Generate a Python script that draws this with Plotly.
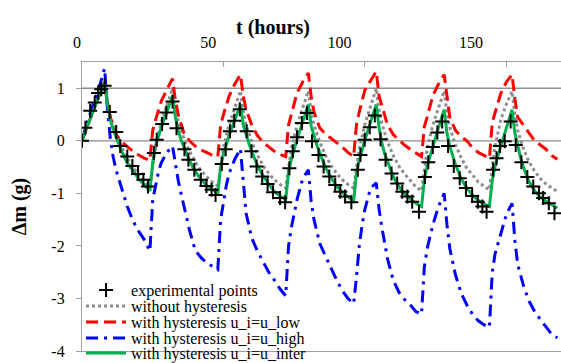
import plotly.graph_objects as go

# ---------------- data ----------------
exp_t = [0, 1.2, 2.9, 4.5, 5.7, 6.8, 8, 9.8, 12.1, 13.5, 16, 17.8, 19.8, 21.7, 23.3,
         25.4, 26.4, 28.3, 29.8, 32, 33.4, 36.2, 37.6, 39.7, 42, 44, 45.8, 47.2,
         49.4, 50.8, 52.3, 53.8, 55.8, 58.2, 59.9, 61.7, 63.7, 65.6, 67.5, 70, 71.8,
         73.3, 74.5, 76, 77.7, 79.5, 81.3, 83.6, 85.4, 87.4, 89.5, 91.3, 93, 95.2,
         97.5, 98.4, 99.9, 101.7, 103.5, 105.5, 107.3, 109.4, 111.4, 113.2, 115, 116.7, 119.1,
         121.2, 122.4, 124, 125.6, 127.3, 129.4, 131.4, 133.5, 135.7, 137.9, 139.9, 141.5, 143,
         145.3, 146.5, 147.7, 149.4, 151.5, 153.3, 155.3, 157.4, 159.5, 161.5, 163, 165, 167]
exp_v = [0, 0.25, 0.57, 0.73, 0.91, 0.98, 1.05, 0.55, 0.17, -0.1, -0.3, -0.48, -0.63, -0.74, -0.87,
         -0.23, 0.02, 0.32, 0.54, 0.75, 0.24, -0.16, -0.36, -0.55, -0.74, -0.86, -0.93, -1.03,
         -0.44, -0.16, 0.18, 0.38, 0.6, 0.18, -0.2, -0.49, -0.68, -0.82, -0.98, -1.09, -1.17,
         -0.52, -0.2, 0.07, 0.34, 0.53, -0.01, -0.27, -0.49, -0.68, -0.84, -0.97, -1.06, -1.17,
         -0.55, -0.27, 0.02, 0.26, 0.48, 0.03, -0.36, -0.62, -0.81, -0.97, -1.06, -1.16, -1.35,
         -0.69, -0.41, -0.12, 0.16, 0.37, -0.1, -0.48, -0.71, -0.9, -1.05, -1.16, -1.25, -1.35,
         -0.55, -0.33, -0.1, -0.01, 0.37, -0.08, -0.41, -0.69, -0.87, -1.0, -1.09, -1.19, -1.38]

gray_t = [0, 2, 4, 6, 8, 9, 10, 12, 14, 16, 18, 20, 22,
          24, 25, 26, 28, 30, 32, 33, 34, 36, 38, 40, 42, 44, 46,
          48, 49, 50, 52, 54, 56, 57, 58, 60, 62, 64, 66, 68, 70,
          72, 73, 74, 76, 78, 80, 81, 82, 84, 86, 88, 90, 92, 94,
          96, 97, 98, 100, 102, 104, 105, 106, 108, 110, 112, 114, 116, 118,
          120, 121, 122, 124, 126, 128, 129, 130, 132, 134, 136, 138, 140, 142,
          144, 145, 146, 148, 150, 152, 153, 154, 156, 158, 160, 162, 164, 166, 168]
gray_v = [0, 0.3, 0.58, 0.86, 1.12, 0.75, 0.48, 0.15, -0.12, -0.33, -0.5, -0.65, -0.78,
          -0.88, -0.45, -0.1, 0.35, 0.68, 1.0, 0.62, 0.38, 0.05, -0.2, -0.4, -0.56, -0.68, -0.78,
          -0.86, -0.45, -0.12, 0.3, 0.62, 0.95, 0.55, 0.3, -0.02, -0.27, -0.47, -0.62, -0.74, -0.83,
          -0.9, -0.5, -0.15, 0.3, 0.62, 0.95, 0.55, 0.3, -0.02, -0.27, -0.47, -0.62, -0.74, -0.83,
          -0.9, -0.5, -0.15, 0.32, 0.66, 1.0, 0.58, 0.32, -0.02, -0.28, -0.48, -0.63, -0.75, -0.88,
          -0.95, -0.5, -0.15, 0.3, 0.62, 0.95, 0.52, 0.25, -0.08, -0.32, -0.52, -0.66, -0.78, -0.86,
          -0.93, -0.5, -0.1, 0.4, 0.7, 0.94, 0.5, 0.2, -0.15, -0.4, -0.58, -0.72, -0.82, -0.9, -0.96]

red_t = gray_t
red_v = [0, 0.3, 0.58, 0.85, 1.1, 0.7, 0.45, 0.12, -0.02, -0.11, -0.2, -0.27, -0.33,
         -0.37, 0.2, 0.4, 0.75, 0.98, 1.18, 0.78, 0.5, 0.15, 0.0, -0.1, -0.17, -0.22, -0.27,
         -0.3, 0.3, 0.5, 0.85, 1.08, 1.26, 0.85, 0.6, 0.3, 0.1, -0.03, -0.12, -0.2, -0.26,
         -0.3, 0.3, 0.5, 0.91, 1.12, 1.29, 0.85, 0.55, 0.25, 0.13, 0.05, -0.03, -0.12, -0.22,
         -0.3, 0.3, 0.55, 0.97, 1.15, 1.32, 0.85, 0.65, 0.3, 0.12, 0.02, -0.08, -0.16, -0.23,
         -0.3, 0.27, 0.45, 0.86, 1.08, 1.26, 0.8, 0.45, 0.2, 0.08, 0.0, -0.13, -0.22, -0.28,
         -0.33, 0.35, 0.55, 0.9, 1.12, 1.26, 0.8, 0.45, 0.3, 0.15, 0.0, -0.08, -0.16, -0.28, -0.35]

blue_t = [0, 1, 2, 4, 6, 8, 9, 10, 11, 12, 14, 16, 18, 20, 22,
          24, 25, 26, 27, 28, 30, 32, 33, 34, 35, 36, 38, 40, 42, 44, 46,
          48, 49, 50, 51, 52, 54, 56, 57, 58, 60, 62, 64, 66, 68, 70,
          72, 73, 74, 75, 76, 78, 80, 81, 82, 84, 86, 88, 90, 92, 94,
          96, 97, 98, 99, 100, 102, 104, 105, 106, 108, 110, 112, 114, 116, 118,
          120, 121, 122, 124, 126, 128, 129, 130, 132, 134, 136, 138, 140, 142,
          144, 145, 146, 148, 150, 152, 153, 154, 156, 158, 160, 162, 164, 166, 168]
blue_v = [0, 0.2, 0.38, 0.7, 1.0, 1.38, 0.6, 0.05, -0.3, -0.55, -0.9, -1.25, -1.52, -1.72, -1.88,
          -2.1, -1.12, -0.85, -0.6, -0.42, -0.22, -0.1, -0.45, -0.75, -1.0, -1.25, -1.7, -2.08, -2.22, -2.32, -2.38,
          -2.45, -1.5, -1.15, -0.85, -0.62, -0.35, -0.15, -0.8, -1.38, -1.85, -2.1, -2.3, -2.5, -2.65, -2.82,
          -2.95, -2.0, -1.65, -1.35, -1.12, -0.72, -0.55, -1.15, -1.5, -1.95, -2.2, -2.42, -2.65, -2.85, -3.0,
          -3.1, -2.6, -2.0, -1.6, -1.3, -0.9, -0.8, -1.3, -1.65, -2.25, -2.65, -2.88, -3.02, -3.12, -3.25,
          -3.3, -2.4, -2.05, -1.6, -1.25, -1.0, -1.6, -2.05, -2.55, -2.9, -3.12, -3.3, -3.42, -3.5,
          -3.55, -2.5, -2.15, -1.75, -1.4, -1.19, -1.9, -2.35, -2.75, -3.05, -3.25, -3.4, -3.55, -3.68, -3.75]

green_t = [0, 1, 2, 4, 6, 8, 9, 10, 11, 12, 14, 16, 18, 20, 22,
           24, 25, 26, 28, 30, 32, 33, 34, 35, 36, 38, 40, 42, 44, 46,
           48, 49, 50, 52, 54, 56, 57, 58, 59, 60, 62, 64, 66, 68, 70,
           72, 73, 74, 76, 78, 80, 81, 82, 83, 84, 86, 88, 90, 92, 94,
           96, 97, 98, 100, 102, 104, 105, 106, 107, 108, 110, 112, 114, 116, 118,
           120, 121, 122, 124, 126, 128, 129, 130, 131, 132, 134, 136, 138, 140, 142,
           144, 145, 146, 148, 150, 152, 153, 154, 155, 156, 158, 160, 162, 164, 166, 168]
green_v = [0, 0.15, 0.3, 0.58, 0.85, 1.1, 0.7, 0.4, 0.22, 0.08, -0.2, -0.42, -0.58, -0.72, -0.84,
           -0.95, -0.4, -0.1, 0.25, 0.55, 0.85, 0.45, 0.2, 0.02, -0.12, -0.38, -0.58, -0.73, -0.85, -0.93,
           -1.0, -0.5, -0.25, 0.1, 0.4, 0.69, 0.3, 0.1, -0.05, -0.2, -0.47, -0.67, -0.83, -0.97, -1.05,
           -1.12, -0.6, -0.35, 0.03, 0.37, 0.69, 0.28, 0.08, -0.08, -0.22, -0.5, -0.7, -0.86, -0.98, -1.07,
           -1.15, -0.62, -0.37, 0.02, 0.35, 0.69, 0.25, -0.05, -0.25, -0.4, -0.68, -0.87, -1.0, -1.1, -1.19,
           -1.25, -0.75, -0.48, -0.1, 0.25, 0.59, 0.15, -0.1, -0.3, -0.45, -0.72, -0.9, -1.03, -1.13, -1.2,
           -1.25, -0.75, -0.48, -0.1, 0.25, 0.59, 0.15, -0.12, -0.32, -0.5, -0.78, -0.95, -1.07, -1.15, -1.22, -1.28]

x_ticks = [0, 50, 100, 150]
x_ticktext = ["0", "50", "100", "150"]
y_ticks = [-4, -3, -2, -1, 0, 1]
y_ticktext = ["-4", "-3", "-2", "-1", "0", "1"]
grid_levels = [0, 1]

names = ["experimental points", "without hysteresis", "with hysteresis u_i=u_low",
         "with hysteresis u_i=u_high", "with hysteresis u_i=u_inter"]

FONT = "Liberation Serif"

fig = go.Figure()
fig.add_trace(go.Scatter(x=gray_t, y=gray_v, mode="lines", name=names[1], legend="legend2",
                         line=dict(color="#8c8c8c", width=3, dash="3px,3px")))
fig.add_trace(go.Scatter(x=red_t, y=red_v, mode="lines", name=names[2], legend="legend3",
                         line=dict(color="#ff0000", width=3, dash="12px,6px")))
fig.add_trace(go.Scatter(x=blue_t, y=blue_v, mode="lines", name=names[3], legend="legend4",
                         line=dict(color="#0000ff", width=3, dash="12px,6px,3px,6px")))
fig.add_trace(go.Scatter(x=green_t, y=green_v, mode="lines", name=names[4], legend="legend5",
                         line=dict(color="#00b050", width=3)))
fig.add_trace(go.Scatter(x=exp_t, y=exp_v, mode="markers", name=names[0], legend="legend",
                         marker=dict(symbol="cross-thin", size=10,
                                     line=dict(color="black", width=2))))
# carrier for the top tick-label axis (no visible marks)
fig.add_trace(go.Scatter(x=x_ticks, y=[None] * len(x_ticks), xaxis="x2", yaxis="y",
                         mode="lines", showlegend=False, hoverinfo="skip"))

for g in grid_levels:
    fig.add_hline(y=g, line=dict(color="#8c8c8c", width=1.3), layer="below")

leg_common = dict(x=-0.002, xanchor="left", yanchor="middle", yref="container",
                  bgcolor="rgba(0,0,0,0)",
                  font=dict(family=FONT, size=16, color="black"), itemwidth=40)
leg_rows = [0.2011, 0.1570, 0.1129, 0.0689, 0.0275]

fig.update_layout(
    width=561, height=363,
    margin=dict(l=82, r=0, t=62, b=12, autoexpand=False),
    paper_bgcolor="white", plot_bgcolor="white",
    font=dict(family=FONT, size=16, color="black"),
    xaxis=dict(range=[0, 169.3], side="top", showgrid=False, zeroline=False,
               showticklabels=False, tickvals=x_ticks[1:], ticks="inside", ticklen=5,
               tickcolor="#a0a0a0", showline=True, linecolor="#a0a0a0", linewidth=1.3,
               mirror=True),
    xaxis2=dict(overlaying="x", side="top", range=[0, 182.4], showgrid=False,
                zeroline=False, showline=False, ticks="", tickvals=x_ticks,
                ticktext=x_ticktext, ticklabelshift=-5, ticklabelstandoff=10,
                tickfont=dict(family=FONT, size=16, color="black")),
    yaxis=dict(range=[-4, 1.5], showgrid=False, zeroline=False, tickvals=y_ticks,
               ticktext=y_ticktext, ticks="outside", ticklen=5, tickcolor="#a0a0a0",
               showline=True, linecolor="#a0a0a0", linewidth=1.3,
               ticklabelstandoff=8, tickfont=dict(family=FONT, size=16, color="black"),
               title=dict(text="<b>Δm (g)</b>", font=dict(family=FONT, size=20, color="black"),
                          standoff=19)),
    legend=dict(y=leg_rows[0], **leg_common),
    legend2=dict(y=leg_rows[1], **leg_common),
    legend3=dict(y=leg_rows[2], **leg_common),
    legend4=dict(y=leg_rows[3], **leg_common),
    legend5=dict(y=leg_rows[4], **leg_common),
    showlegend=True,
)

fig.add_annotation(text="<b>t (hours)</b>", xref="paper", yref="paper",
                   x=0.399, y=1.12, yanchor="middle", showarrow=False,
                   font=dict(family=FONT, size=20, color="black"))

fig.write_html("out.html", config={"displayModeBar": False},
               post_script="document.body.style.margin='0px';")
